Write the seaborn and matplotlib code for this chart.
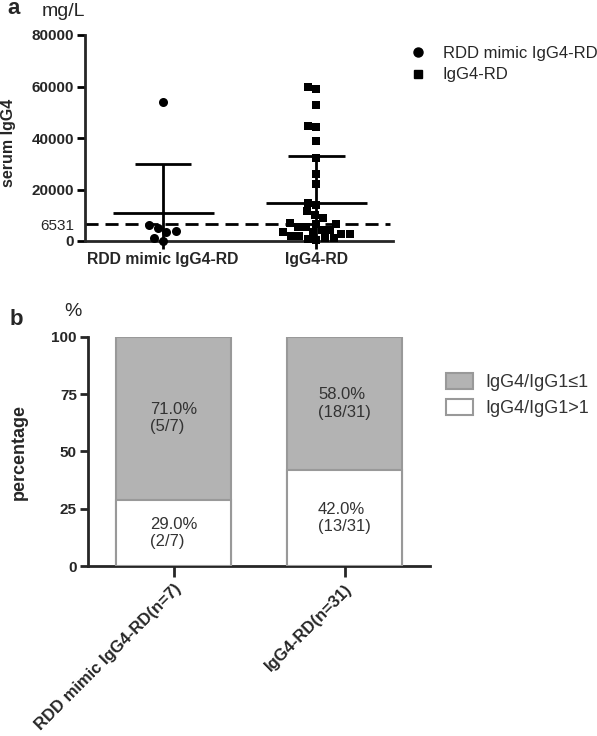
import warnings
import matplotlib
matplotlib.use('Agg')
import matplotlib.pyplot as plt
from matplotlib.lines import Line2D
from matplotlib.patches import Patch
import numpy as np
import pandas as pd
import seaborn as sns

warnings.filterwarnings('ignore')

# panel a: serum IgG4 (mg/L)
groups = ['RDD mimic IgG4-RD', 'IgG4-RD']
rdd_igg4 = [54000, 6200, 5160, 4000, 3380, 1280, 100]
igg4rd_igg4 = [60000, 59000, 52700, 44800, 44100, 38800, 32100, 26100, 22100,
               14900, 14100, 11500, 10200, 8800, 6900, 6700, 6700, 5600, 5500,
               4300, 4200, 3500, 3400, 2800, 2700, 2000, 1900, 1300, 1200, 800, 400]
group_mean = [10700, 14600]
group_sd = [19100, 18500]
cutoff = 6531
yticks_a = [0, cutoff, 20000, 40000, 60000, 80000]

# panel b: IgG4/IgG1 ratio
bar_labels = ['RDD mimic IgG4-RD(n=7)', 'IgG4-RD(n=31)']
pct_le1 = [71.0, 58.0]
pct_gt1 = [29.0, 42.0]
n_le1 = ['5/7', '18/31']
n_gt1 = ['2/7', '13/31']

sns.set_style('ticks')
plt.rcParams['font.family'] = ['Liberation Sans', 'DejaVu Sans']
plt.rcParams['axes.linewidth'] = 2

W, H = 597, 736
fig = plt.figure(figsize=(W / 100, H / 100), dpi=100)


def box(x0, y0, x1, y1):
    # pixel box (top-left origin) -> figure fraction
    return [x0 / W, 1 - y1 / H, (x1 - x0) / W, (y1 - y0) / H]


# ---------------- panel a ----------------
ax = fig.add_axes(box(85, 35, 393, 241))
df_rdd = pd.DataFrame({'group': groups[0], 'value': rdd_igg4})
df_igg = pd.DataFrame({'group': groups[1], 'value': igg4rd_igg4})
sns.swarmplot(data=df_rdd, x='group', y='value', order=groups, marker='o',
              color='black', size=6.5, ax=ax, clip_on=False, zorder=3)
sns.swarmplot(data=df_igg, x='group', y='value', order=groups, marker='s',
              color='black', size=6, ax=ax, clip_on=False, zorder=3)

for i, (m, s) in enumerate(zip(group_mean, group_sd)):
    ax.hlines(m, i - 0.33, i + 0.33, color='black', lw=2, zorder=4)
    ax.vlines(i, m - s, m + s, color='black', lw=2, zorder=4)
    ax.hlines([m + s, m - s], i - 0.185, i + 0.185, color='black', lw=2, zorder=4)

ax.axhline(cutoff, xmax=0.99, color='black', lw=2, ls=(0, (4.7, 2.5)), zorder=2)

ax.set_xlim(-0.51, 1.5)
ax.set_ylim(0, 80000)
ax.set_yticks(yticks_a)
ax.set_yticklabels([str(t) for t in yticks_a])
for lab in ax.get_yticklabels():
    lab.set_fontweight('normal' if lab.get_text() == str(cutoff) else 'bold')
ax.yaxis.get_major_ticks()[1].tick1line.set_visible(False)
ax.set_xticks([0, 1])
ax.set_xticklabels(groups, fontweight='bold')
ax.tick_params(axis='both', length=6, width=2, labelsize=11, color='black', pad=2)
ax.tick_params(axis='x', labelsize=11.3)
ax.set_xlabel('')
ax.set_ylabel('serum IgG4', fontweight='bold', fontsize=11.5)
ax.yaxis.set_label_coords(-0.225, 0.476)
sns.despine(ax=ax)

leg_handles = [Line2D([], [], marker='o', color='black', ls='', markersize=6.5),
               Line2D([], [], marker='s', color='black', ls='', markersize=6)]
ax.legend(leg_handles, groups, loc='center left', frameon=False,
          bbox_to_anchor=(410 / W, 1 - 64 / H), bbox_transform=fig.transFigure,
          fontsize=12, handlelength=1.0, handletextpad=0.95, labelspacing=0.4,
          borderpad=0, borderaxespad=0)

fig.text(14 / W, 1 - 9 / H, 'a', fontsize=16, fontweight='bold', ha='center', va='center')
fig.text(63 / W, 1 - 11 / H, 'mg/L', fontsize=14, ha='center', va='center')

# ---------------- panel b ----------------
bx = fig.add_axes(box(88, 337, 430, 566))
totals = list(np.add(pct_gt1, pct_le1))
sns.barplot(x=bar_labels, y=totals, color='#b3b3b3', edgecolor='#999999',
            linewidth=1.5, width=0.667, ax=bx, zorder=2)
sns.barplot(x=bar_labels, y=pct_gt1, color='white', edgecolor='#999999',
            linewidth=1.5, width=0.667, ax=bx, zorder=3)

for i in range(len(bar_labels)):
    bx.text(i, pct_gt1[i] + pct_le1[i] / 2, f'{pct_le1[i]:.1f}%\n({n_le1[i]})',
            ha='center', va='center', multialignment='left', fontsize=12,
            color='#333333', zorder=5)
    bx.text(i, pct_gt1[i] / 2, f'{pct_gt1[i]:.1f}%\n({n_gt1[i]})',
            ha='center', va='center', multialignment='left', fontsize=12,
            color='#333333', zorder=5)

bx.set_xlim(-0.5, 1.5)
bx.set_ylim(0, 100)
bx.set_yticks([0, 25, 50, 75, 100])
bx.set_yticklabels(['0', '25', '50', '75', '100'], fontweight='bold')
bx.tick_params(axis='y', length=6, width=2, labelsize=11, pad=2)
bx.tick_params(axis='x', length=8, width=2, labelsize=12, pad=3)
bx.set_xticks([0, 1])
bx.set_xticklabels(bar_labels, fontweight='bold', rotation=45, ha='right',
                   va='top', rotation_mode='anchor')
bx.set_ylabel('percentage', fontweight='bold', fontsize=13)
bx.yaxis.set_label_coords(-0.175, 0.5)
sns.despine(ax=bx)

b_handles = [Patch(facecolor='#b3b3b3', edgecolor='#999999', lw=1.5),
             Patch(facecolor='white', edgecolor='#999999', lw=1.5)]
bx.legend(b_handles, ['IgG4/IgG1≤1', 'IgG4/IgG1>1'], loc='center left',
          frameon=False, bbox_to_anchor=(446 / W, 1 - 395 / H),
          bbox_transform=fig.transFigure, fontsize=13, labelcolor='#333333',
          handlelength=1.5, handleheight=1.0, handletextpad=0.7,
          labelspacing=0.45, borderpad=0, borderaxespad=0)

fig.text(16 / W, 1 - 320 / H, 'b', fontsize=16, fontweight='bold', ha='center', va='center')
fig.text(73 / W, 1 - 312 / H, '%', fontsize=14, ha='center', va='center')

fig.savefig('out.png', dpi=100)
